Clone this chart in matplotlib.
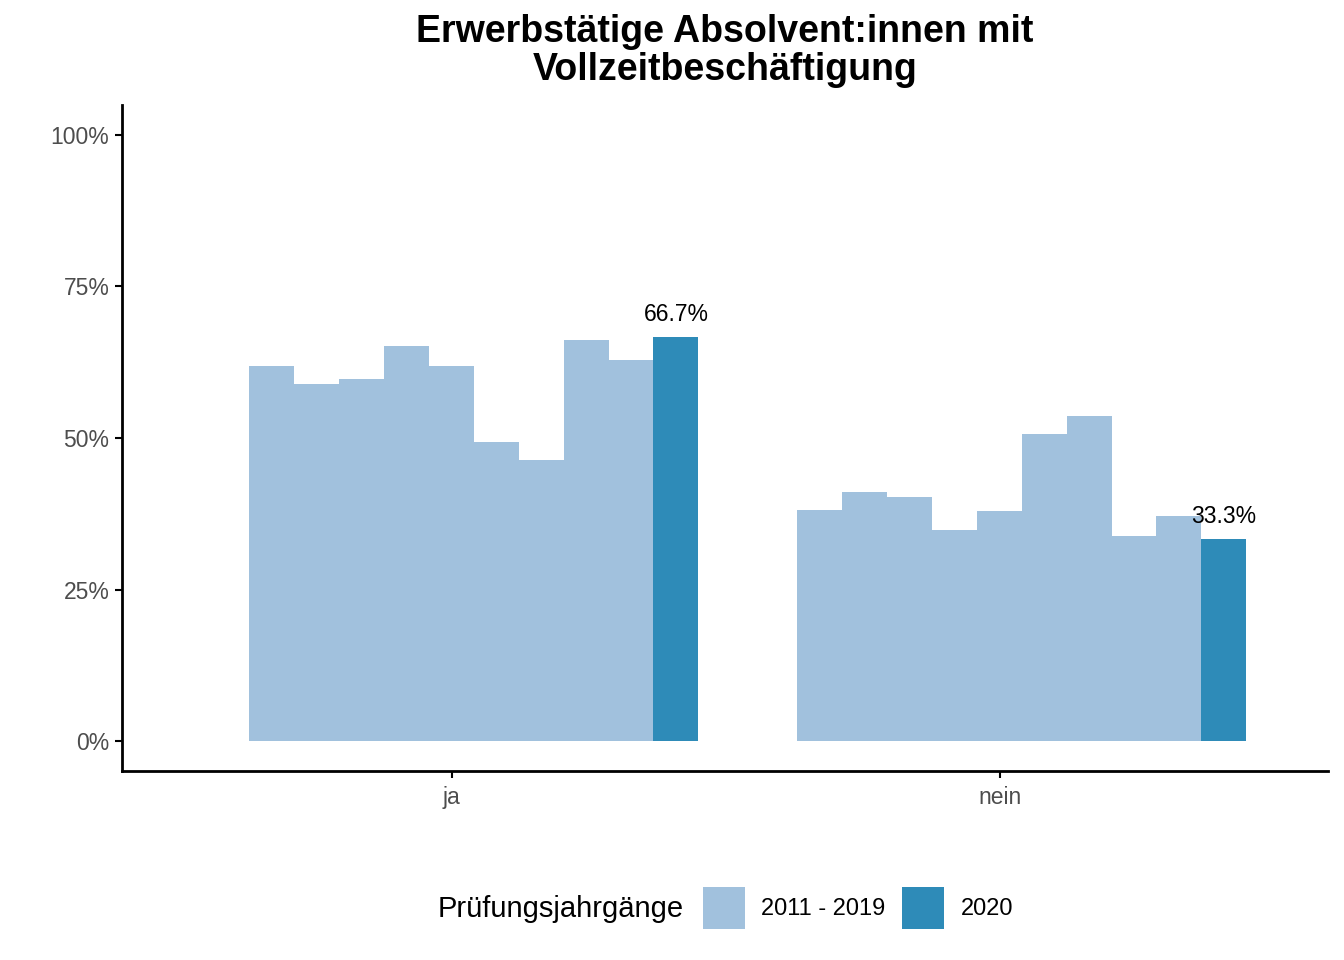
import matplotlib
matplotlib.use("Agg")
import matplotlib.pyplot as plt
from matplotlib.patches import Patch
import numpy as np

plt.rcParams['font.family'] = ['Liberation Sans', 'DejaVu Sans']

categories = ["ja", "nein"]
hist_years = ["2011", "2012", "2013", "2014", "2015", "2016", "2017", "2018", "2019"]
hist_ja = [0.619, 0.589, 0.597, 0.652, 0.619, 0.493, 0.464, 0.662, 0.629]
hist_nein = [0.381, 0.411, 0.403, 0.348, 0.380, 0.507, 0.536, 0.338, 0.372]
current_values = [0.667, 0.333]
current_labels = ["66.7%", "33.3%"]
legend_labels = ["2011 - 2019", "2020"]
legend_title = "Prüfungsjahrgänge"
title = "Erwerbstätige Absolvent:innen mit\nVollzeitbeschäftigung"
yticks = [0, 0.25, 0.5, 0.75, 1.0]
yticklabels = ["0%", "25%", "50%", "75%", "100%"]

c_light = "#a1c1dd"
c_dark = "#2e8bb8"

fig = plt.figure(figsize=(13.44, 9.6), dpi=100)
ax = fig.add_axes([122/1344, 1-771/960, (1328-122)/1344, (771-105)/960])

bw = 0.082
start = -0.370
hist = [hist_ja, hist_nein]
for ci, cat in enumerate(categories):
    x0 = ci + 1 + start
    for j, v in enumerate(hist[ci]):
        ax.bar(x0 + j*bw, v, width=bw, align='edge', color=c_light, linewidth=0)
    xc = x0 + len(hist[ci])*bw
    ax.bar(xc, current_values[ci], width=bw, align='edge', color=c_dark, linewidth=0)
    ax.text(xc + bw/2, current_values[ci] + 0.018, current_labels[ci],
            ha='center', va='bottom', fontsize=16.5, color='black')

ax.set_xlim(0.398, 2.599)
ax.set_ylim(-0.0495, 1.0495)
ax.set_xticks([1, 2])
ax.set_xticklabels(categories)
ax.set_yticks(yticks)
ax.set_yticklabels(yticklabels)
ax.tick_params(axis='both', labelsize=16.5, labelcolor='#4d4d4d', length=5, width=1.5, color='black')
ax.tick_params(axis='x', pad=6)
ax.tick_params(axis='y', pad=4)
for s in ['top', 'right']:
    ax.spines[s].set_visible(False)
for s in ['left', 'bottom']:
    ax.spines[s].set_linewidth(2)

fig.text(725/1344, 1-51/960, title, ha='center', va='center', fontsize=27,
         fontweight='bold', linespacing=1.1)

fig.text(438/1344, 1-909/960, legend_title, ha='left', va='center', fontsize=21)
handles = [Patch(facecolor=c_light, linewidth=0), Patch(facecolor=c_dark, linewidth=0)]
fig.legend(handles, legend_labels, ncol=2, loc='center left',
           bbox_to_anchor=(703/1344, 1-908/960), frameon=False, fontsize=17,
           handlelength=1.78, handleheight=2.36, handletextpad=0.68,
           columnspacing=0.72, borderaxespad=0, borderpad=0)

fig.savefig("out.png", dpi=100)
